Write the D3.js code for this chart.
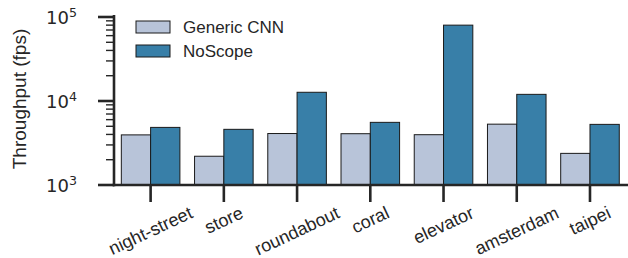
<!DOCTYPE html>
<html>
<head>
<meta charset="utf-8">
<script src="https://cdn.jsdelivr.net/npm/d3@7"></script>
<style>
  body { margin: 0; background: #fff; }
  svg { display: block; }
</style>
</head>
<body>
<script>
const width = 628, height = 258

const categories = ['night-street', 'store', 'roundabout', 'coral', 'elevator', 'amsterdam', 'taipei']
const series = ['Generic CNN', 'NoScope']
const genericCnn = [3950, 2200, 4100, 4080, 3970, 5300, 2380]
const noScope = [4850, 4600, 12700, 5570, 80000, 12000, 5270]
const yTicks = [1e3, 1e4, 1e5]
const colors = ['#b8c4d9', '#387fa8']

const ink = '#262626'

const rows = categories.map((c, i) => ({ cat: c, values: [genericCnn[i], noScope[i]] }))

const svg = d3.select('body')
  .append('svg')
  .attr('width', width)
  .attr('height', height)

const x = d3.scaleBand()
  .domain(categories)
  .range([114, 626.6])
  .paddingInner(0.2)
  .paddingOuter(0.1)

const xs = d3.scaleBand()
  .domain(series)
  .range([0, x.bandwidth()])

const y = d3.scaleLog()
  .domain([1e3, 1e5])
  .range([185, 17])

// bars
svg.append('g')
  .selectAll('g').data(rows).enter()
  .append('g')
  .attr('transform', d => `translate(${x(d.cat)},0)`)
  .selectAll('rect').data(d => d.values.map((v, k) => ({ s: series[k], v, k }))).enter()
  .append('rect')
  .attr('x', d => xs(d.s))
  .attr('y', d => y(d.v))
  .attr('width', xs.bandwidth())
  .attr('height', d => y(1e3) - y(d.v))
  .attr('fill', d => colors[d.k])
  .attr('stroke', '#1a1a1a')
  .attr('stroke-width', 1)

// y axis: major + minor ticks
const minor = []
for (let e = 3; e < 5; e++) {
  for (let m = 2; m <= 9; m++) minor.push(m * Math.pow(10, e))
}

const yAxis = svg.append('g')
yAxis.selectAll('line.minor').data(minor).enter()
  .append('line')
  .attr('x1', 106).attr('x2', 114)
  .attr('y1', d => y(d)).attr('y2', d => y(d))
  .attr('stroke', ink).attr('stroke-width', 1.4)

yAxis.selectAll('line.major').data(yTicks).enter()
  .append('line')
  .attr('x1', 98).attr('x2', 114)
  .attr('y1', d => y(d)).attr('y2', d => y(d))
  .attr('stroke', ink).attr('stroke-width', 2.6)

const lbl = yAxis.selectAll('text').data(yTicks).enter()
  .append('text')
  .attr('x', 77)
  .attr('y', d => y(d) + 6.5)
  .attr('text-anchor', 'end')
  .attr('fill', ink)
  .style('font-family', 'DejaVu Sans')
  .style('font-size', '18px')
lbl.append('tspan').text('10')
lbl.append('tspan')
  .attr('dy', -7)
  .style('font-size', '12.6px')
  .text(d => Math.round(Math.log10(d)))

svg.append('line')
  .attr('x1', 114).attr('x2', 114)
  .attr('y1', 15).attr('y2', 186.3)
  .attr('stroke', ink).attr('stroke-width', 2.6)

// x axis
svg.append('line')
  .attr('x1', 112.7).attr('x2', 628)
  .attr('y1', 185).attr('y2', 185)
  .attr('stroke', ink).attr('stroke-width', 2.6)

svg.append('g')
  .selectAll('line').data(categories).enter()
  .append('line')
  .attr('x1', d => x(d) + x.bandwidth() / 2)
  .attr('x2', d => x(d) + x.bandwidth() / 2)
  .attr('y1', 185).attr('y2', 202)
  .attr('stroke', ink).attr('stroke-width', 2.6)

const rot = 25 * Math.PI / 180
svg.append('g')
  .selectAll('text').data(categories).enter()
  .append('text')
  .attr('text-anchor', 'middle')
  .attr('dominant-baseline', 'central')
  .attr('fill', ink)
  .style('font-family', 'Liberation Sans, Arial, sans-serif')
  .style('font-size', '18px')
  .text(d => d)
  .attr('transform', function (d) {
    const w = this.getComputedTextLength(), h = 17
    const cy = 204 + (w * Math.sin(rot) + h * Math.cos(rot)) / 2
    return `translate(${x(d) + x.bandwidth() / 2},${cy}) rotate(-25)`
  })

// y label
svg.append('text')
  .attr('transform', 'translate(26,99) rotate(-90)')
  .attr('text-anchor', 'middle')
  .attr('fill', ink)
  .style('font-family', 'Liberation Sans, Arial, sans-serif')
  .style('font-size', '19px')
  .text('Throughput (fps)')

// legend
const legend = svg.append('g')
  .selectAll('g').data(series).enter()
  .append('g')
  .attr('transform', (d, i) => `translate(136,${21 + i * 24})`)

legend.append('rect')
  .attr('width', 34).attr('height', 12)
  .attr('fill', (d, i) => colors[i])
  .attr('stroke', '#1a1a1a').attr('stroke-width', 1)

legend.append('text')
  .attr('x', 47).attr('y', 12)
  .attr('fill', ink)
  .style('font-family', 'Liberation Sans, Arial, sans-serif')
  .style('font-size', '17px')
  .text(d => d)
</script>
</body>
</html>
